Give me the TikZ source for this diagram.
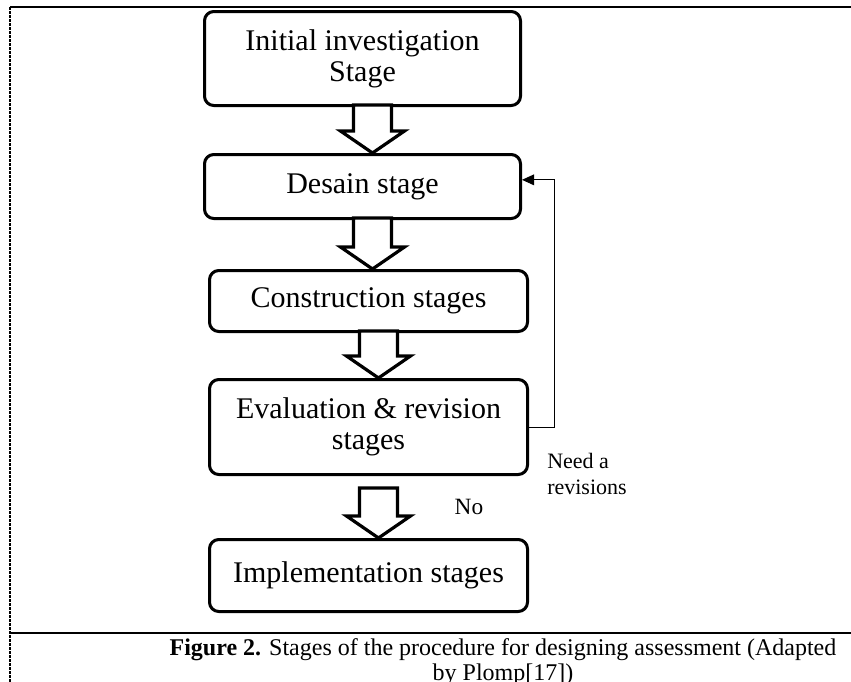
\documentclass[tikz,border=0pt]{standalone}
\usepackage{fontspec}
\setmainfont{Liberation Serif}
\usetikzlibrary{positioning,calc,arrows.meta}

\tikzset{
  stage/.style={draw, line width=2.25pt, rounded corners=7pt, align=center,
    font=\fontsize{22.5}{23.5}\selectfont, minimum width=237pt, inner sep=0pt},
  blockarrow/.style={draw, line width=2.4pt, fill=white, line join=miter},
  revline/.style={draw, line width=0.75pt, -{Triangle[length=9pt,width=8pt]}},
  sidelabel/.style={font=\fontsize{16.5}{19.5}\selectfont, align=left, inner sep=0pt},
  caption/.style={font=\fontsize{18}{18.75}\selectfont, align=center, inner sep=0pt},
  frameline/.style={line width=1.1pt}
}

% fat down arrow from one stage to the next
\newcommand{\stagearrow}[3]{%
  \path ($(#1.south)+(10,#3)$) coordinate (arrtop)
        ($(#2.north)+(0,-22)$) coordinate (headbase);
  \draw[blockarrow] ($(arrtop)+(-19,0)$)
    -- ($(arrtop |- headbase)+(-19,0)$) -- ++(-13,0) -- (arrtop |- #2.north)
    -- ++(32,-22) -- ++(-13,0) -- ($(arrtop)+(19,0)$) -- cycle;
}

\begin{document}
\begin{tikzpicture}[x=0.75pt, y=-0.75pt]
  \useasboundingbox (0,0) rectangle (851,682);

  % frame
  \draw[frameline] (10,7) -- (851,7);
  \draw[line width=0.8pt, dash pattern=on 2pt off 1pt] (10,7) -- (10,682);
  \draw[frameline] (10,633) -- (851,633);

  % stages
  \node[stage, minimum height=70.5pt] (init) at (362.5,58.5) {Initial investigation\\Stage};
  \node[stage, minimum height=48pt, below=34.5pt of init] (design) {Desain stage};
  \node[stage, minimum height=45.75pt, minimum width=238.5pt,
        below=36.75pt of design, xshift=4.5pt] (constr) {Construction stages};
  \node[stage, minimum height=71.25pt, minimum width=238.5pt,
        below=33.75pt of constr] (eval) {Evaluation \& revision\\stages};
  \node[stage, minimum height=54pt, minimum width=238.5pt,
        below=46.5pt of eval] (impl) {Implementation stages};

  % arrows between stages
  \stagearrow{init}{design}{-2}
  \stagearrow{design}{constr}{-2}
  \stagearrow{constr}{eval}{-2}
  \stagearrow{eval}{impl}{12}

  % revision loop
  \draw[revline] (eval.east) -- ++(25,0) |- ([yshift=5pt]design.east);
  \node[sidelabel, font=\fontsize{17.5}{19.5}\selectfont] (nolbl) at (469,507) {No};
  \node[sidelabel, anchor=west] (needlbl) at (547,474) {Need a\\revisions};

  % caption
  \node[caption] (cap) at (503,662) {\textbf{Figure 2.} Stages of the procedure for designing assessment (Adapted\\by Plomp[17])};
\end{tikzpicture}
\end{document}
